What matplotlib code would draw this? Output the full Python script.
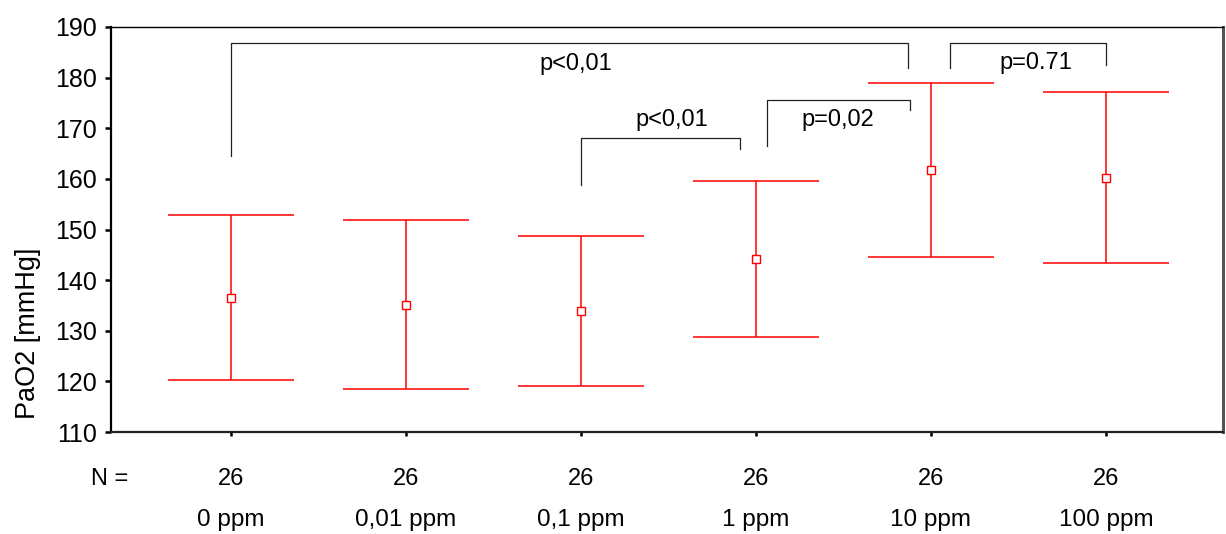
import matplotlib
matplotlib.use("Agg")
import matplotlib.pyplot as plt

plt.rcParams['font.family'] = ['Liberation Sans', 'DejaVu Sans']

categories = ["0 ppm", "0,01 ppm", "0,1 ppm", "1 ppm", "10 ppm", "100 ppm"]
n_values = [26, 26, 26, 26, 26, 26]
means = [136.5, 135.1, 133.9, 144.2, 161.8, 160.2]
upper = [152.9, 151.9, 148.7, 159.6, 179.0, 177.1]
lower = [120.3, 118.5, 119.1, 128.8, 144.6, 143.4]
yticks = [110, 120, 130, 140, 150, 160, 170, 180, 190]

# brackets: (left pos, right pos, left-leg bottom, top, right-leg bottom, label, label y)
brackets = [
    (0, 3.87, 164.6, 186.8, 182.0, "p<0,01", 182.6),
    (2, 2.91, 158.8, 168.0, 166.0, "p<0,01", 171.6),
    (3.06, 3.88, 166.4, 175.6, 173.6, "p=0,02", 171.6),
    (4.11, 5, 182.0, 186.8, 182.4, "p=0.71", 182.9),
]
label_x = [1.97, 2.52, 3.47, 4.6]

fig = plt.figure(figsize=(12.26, 5.34), dpi=100)
ax = fig.add_axes([111/1226, 1 - 432/534, (1223 - 111)/1226, (432 - 27)/534])

x = list(range(len(categories)))
red = "#ff0000"
ax.vlines(x, lower, upper, color=red, lw=1.1)
ax.hlines(upper, [xi - 0.36 for xi in x], [xi + 0.36 for xi in x], color=red, lw=1.1)
ax.hlines(lower, [xi - 0.36 for xi in x], [xi + 0.36 for xi in x], color=red, lw=1.1)
ax.plot(x, means, ls='none', marker='s', ms=6, mfc='white', mec=red, mew=1.0, zorder=3)

for (l, r, lb, top, rb, lab, ly), lx in zip(brackets, label_x):
    ax.plot([l, l, r, r], [lb, top, top, rb], color="#222222", lw=0.9)
    ax.text(lx, ly, lab, ha='center', va='center', fontsize=17)

ax.set_xlim(-120/175, 5 + 117/175)
ax.set_ylim(110, 190)
ax.set_yticks(yticks)
ax.set_yticklabels([str(v) for v in yticks], fontsize=18)
ax.set_xticks(x)
ax.set_xticklabels([])
ax.tick_params(axis='y', direction='out', length=4, width=1.8, pad=6)
ax.tick_params(axis='x', direction='out', length=3, width=1.8)

for lab, xi, n in zip(categories, x, n_values):
    ax.annotate(str(n), xy=(xi, 0), xycoords=('data', 'axes fraction'),
                xytext=(0, -47), textcoords='offset pixels',
                ha='center', va='center', fontsize=17)
    ax.annotate(lab, xy=(xi, 0), xycoords=('data', 'axes fraction'),
                xytext=(0, -88), textcoords='offset pixels',
                ha='center', va='center', fontsize=17.5)
ax.annotate("N =", xy=(0, 0), xycoords='axes fraction',
            xytext=(-1, -47), textcoords='offset pixels',
            ha='center', va='center', fontsize=17)

ax.text((28 - 111) / 1112, (432 - 333) / 405, "PaO2 [mmHg]", transform=ax.transAxes,
        rotation=90, ha='center', va='center', fontsize=19.5)

ax.spines['left'].set_linewidth(1.6)
ax.spines['bottom'].set_linewidth(1.6)
ax.spines['top'].set_linewidth(1.0)
ax.spines['right'].set_linewidth(2.2)
ax.spines['right'].set_color('#555555')
ax.spines['bottom'].set_color('#222222')

fig.savefig("out.png", dpi=100)
